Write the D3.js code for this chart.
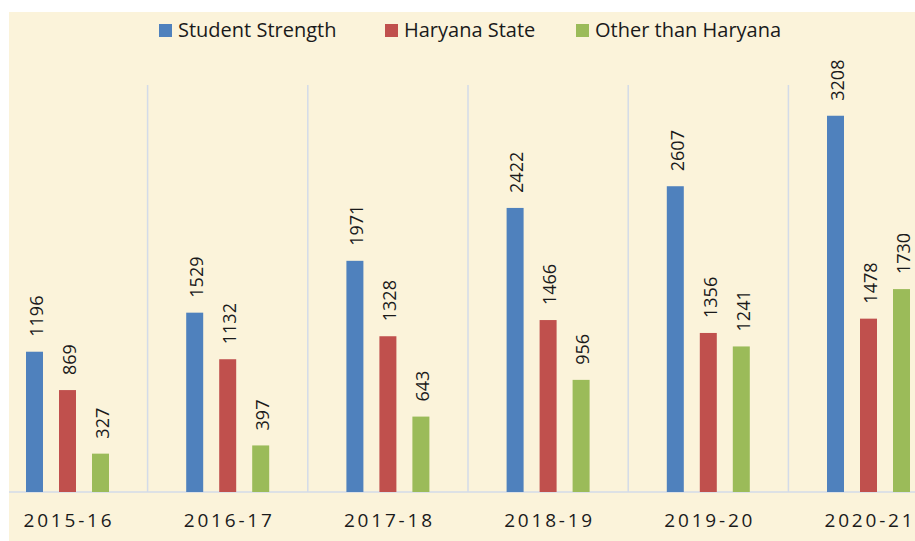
<!DOCTYPE html>
<html>
<head>
<meta charset="utf-8">
<script src="https://cdn.jsdelivr.net/npm/d3@7"></script>
<style>
  html, body { margin: 0; padding: 0; background: #ffffff; }
  svg { display: block; }
  text { font-family: "Open Sans", "Noto Sans", sans-serif; fill: #1a1a1a; }
</style>
</head>
<body>
<svg id="chart" width="915" height="541"></svg>
<script>
const categories = ["2015-16", "2016-17", "2017-18", "2018-19", "2019-20", "2020-21"];
const seriesNames = ["Student Strength", "Haryana State", "Other than Haryana"];
const studentStrength = [1196, 1529, 1971, 2422, 2607, 3208];
const haryanaState = [869, 1132, 1328, 1466, 1356, 1478];
const otherThanHaryana = [327, 397, 643, 956, 1241, 1730];
const seriesValues = [studentStrength, haryanaState, otherThanHaryana];
const colors = ["#4f81bd", "#c0504d", "#9bbb59"];

const W = 915, H = 541;
const svg = d3.select("#chart");

// background panel
svg.append("rect").attr("x", 9).attr("y", 12).attr("width", W - 9).attr("height", H - 12)
  .attr("fill", "#fbf3da");

const baseY = 492;
const x0 = d3.scaleBand().domain(categories).range([-12.6, -12.6 + 6 * 160.2]);
const x1 = d3.scaleBand().domain(seriesNames).range([0, x0.bandwidth()])
  .paddingInner(0.485).paddingOuter(1.17);
const y = d3.scaleLinear().domain([0, 3500]).range([baseY, 81.5]);

// vertical separators between categories
const gridColor = "#d3dbe8";
svg.append("g").selectAll("line")
  .data(categories.slice(1))
  .join("line")
  .attr("x1", d => x0(d)).attr("x2", d => x0(d))
  .attr("y1", 85).attr("y2", baseY)
  .attr("stroke", gridColor).attr("stroke-width", 1.5);

// baseline
svg.append("line").attr("x1", 9).attr("x2", W).attr("y1", baseY).attr("y2", baseY)
  .attr("stroke", gridColor).attr("stroke-width", 1.5);

// bars
const groups = svg.append("g").selectAll("g")
  .data(categories)
  .join("g")
  .attr("transform", d => `translate(${x0(d)},0)`);

groups.selectAll("rect")
  .data((c, i) => seriesNames.map((s, j) => ({ s, j, v: seriesValues[j][i] })))
  .join("rect")
  .attr("x", d => x1(d.s))
  .attr("width", x1.bandwidth())
  .attr("y", d => y(d.v))
  .attr("height", d => baseY - y(d.v))
  .attr("fill", d => colors[d.j]);

// value labels (rotated)
groups.selectAll("text.val")
  .data((c, i) => seriesNames.map((s, j) => ({ s, j, v: seriesValues[j][i] })))
  .join("text")
  .attr("class", "val")
  .attr("transform", d => `translate(${x1(d.s) + x1.bandwidth() / 2 + 2},${y(d.v) - 15}) rotate(-90)`)
  .attr("dy", "0.35em")
  .attr("font-size", 18)
  .text(d => d.v);

// category labels
svg.append("g").selectAll("text")
  .data(categories)
  .join("text")
  .attr("x", d => x0(d) + x0.bandwidth() / 2 + 1.5)
  .attr("y", 527)
  .attr("text-anchor", "middle")
  .attr("font-size", 19)
  .attr("font-weight", 500)
  .attr("letter-spacing", 2.8)
  .text(d => d);

// legend
const legendX = [159, 385, 576];
const legend = svg.append("g").selectAll("g")
  .data(seriesNames)
  .join("g")
  .attr("transform", (d, i) => `translate(${legendX[i]},0)`);
legend.append("rect").attr("x", 0).attr("y", 24).attr("width", 13).attr("height", 13)
  .attr("fill", (d, i) => colors[i]);
legend.append("text").attr("x", 19).attr("y", 37).attr("font-size", 20).text(d => d);
</script>
</body>
</html>
